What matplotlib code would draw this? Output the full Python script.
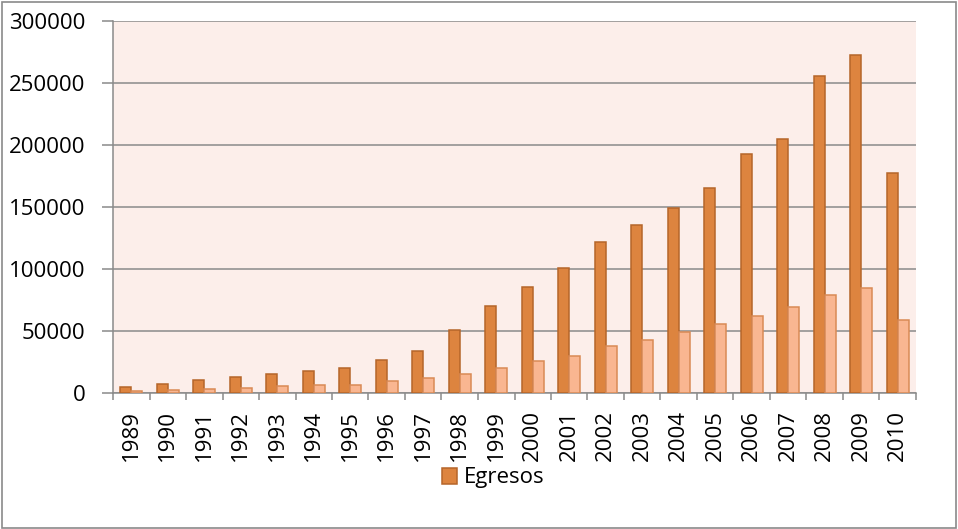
import numpy as np
import matplotlib
matplotlib.use("Agg")
import matplotlib.pyplot as plt
from matplotlib.patches import Rectangle

# ── Data ─────────────────────────────────────────────────────────────────────
years = ["1989", "1990", "1991", "1992", "1993", "1994", "1995", "1996",
         "1997", "1998", "1999", "2000", "2001", "2002", "2003", "2004",
         "2005", "2006", "2007", "2008", "2009", "2010"]
egresos = [5000, 7300, 10200, 12600, 15600, 18000, 19900, 26300,
           34100, 50500, 69900, 85200, 100800, 122000, 135700, 149400,
           165600, 192500, 204600, 255900, 272800, 177700]
serie_2 = [1600, 2100, 3200, 4300, 5600, 6200, 6400, 9400,
           11800, 15000, 19900, 25800, 29800, 37600, 42700, 48900,
           55400, 62400, 69600, 78800, 84400, 58900]
y_ticks = [0, 50000, 100000, 150000, 200000, 250000, 300000]

DARK, DARK_EDGE = "#DD843F", "#B5652A"
LIGHT, LIGHT_EDGE = "#F9B691", "#D98A55"
GRID = "#8A8A8A"

plt.rcParams["font.family"] = ["Open Sans", "DejaVu Sans"]
FS = 16

fig = plt.figure(figsize=(9.58, 5.29), dpi=100)
ax = fig.add_axes([113 / 958, 1 - 393 / 529, 803 / 958, 372 / 529])
ax.set_facecolor("#FCEEEA")

x = np.arange(len(years))
w = 0.3
ax.bar(x - w / 2, egresos, width=w, color=DARK, edgecolor=DARK_EDGE,
       linewidth=1.1, label="Egresos", zorder=3)
ax.bar(x + w / 2, serie_2, width=w, color=LIGHT, edgecolor=LIGHT_EDGE,
       linewidth=1.1, zorder=3)

ax.set_xlim(-0.5, len(years) - 0.5)
ax.set_ylim(0, 300000)
ax.set_yticks(y_ticks)
ax.set_yticklabels([str(v) for v in y_ticks], fontsize=FS, color="black")
ax.yaxis.grid(True, color=GRID, linewidth=1.1, zorder=1)

ax.set_xticks(x)
ax.set_xticklabels(years, rotation=90, fontsize=FS, color="black")
ax.set_xticks(np.arange(-0.5, len(years)), minor=True)
ax.tick_params(axis="x", which="major", length=0, pad=12)
ax.tick_params(axis="x", which="minor", length=5, width=1.1, color=GRID)
ax.tick_params(axis="y", length=8, width=1.1, color=GRID, pad=12)

for side in ["top", "right"]:
    ax.spines[side].set_visible(False)
for side in ["left", "bottom"]:
    ax.spines[side].set_color(GRID)
    ax.spines[side].set_linewidth(1.1)

fig.legend(loc="center", bbox_to_anchor=(493 / 958, 1 - 478 / 529),
           frameon=False, fontsize=FS, handlelength=0.7, handleheight=0.7,
           handletextpad=0.3)

# outer chart border
fig.patches.append(Rectangle((0.002, 0.002), 0.996, 0.995, transform=fig.transFigure,
                             fill=False, edgecolor="#8A8A8A", linewidth=1.2))

fig.savefig("out.png", dpi=100)
